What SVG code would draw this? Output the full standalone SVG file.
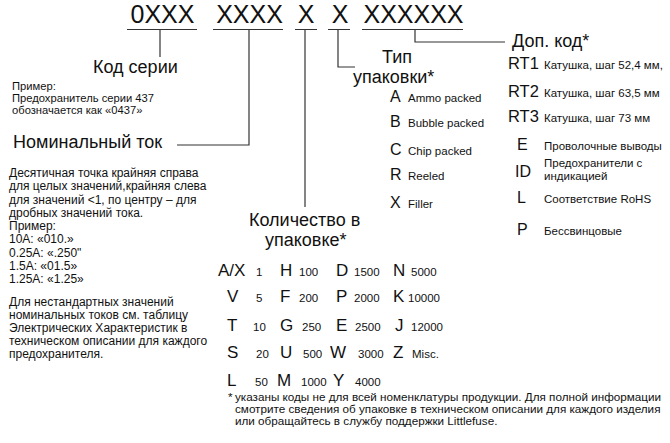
<svg xmlns="http://www.w3.org/2000/svg" width="670" height="443" viewBox="0 0 670 443">
<style>
text{font-family:"Liberation Sans",Arial,sans-serif;fill:#111}
.code{font-size:25px}
.lbl{font-size:18px}
.big{font-size:17px}
.mid{font-size:16px}
.rt{font-size:16.5px}
.sm{font-size:11.5px}
.ex{font-size:11.2px}
.cur{font-size:12px}
.fn{font-size:11.7px}
.num{font-size:11.5px}
.ln{fill:none;stroke:#333;stroke-width:1.2}
</style>
<rect width="670" height="443" fill="#fff"/>
<g id="code">
<text class="code" x="162.5" y="23" text-anchor="middle">0XXX</text>
<text class="code" x="249.5" y="23" text-anchor="middle">XXXX</text>
<text class="code" x="306" y="23" text-anchor="middle">X</text>
<text class="code" x="340" y="23" text-anchor="middle">X</text>
<text class="code" x="413.5" y="23" text-anchor="middle">XXXXXX</text>
<path class="ln" d="M127,29.5H197M213,29.5H283M295,29.5H317M328,29.5H350M362,29.5H463"/>
</g>
<g id="connectors">
<path class="ln" d="M160,30V57"/>
<path class="ln" d="M249,30V145H177"/>
<path class="ln" d="M305,30V207"/>
<path class="ln" d="M338,30V67H355"/>
<path class="ln" d="M415,30V42H505"/>
</g>
<g id="series">
<text class="lbl" x="93" y="73">Код серии</text>
<text class="ex" x="12" y="90">Пример:</text>
<text class="ex" x="12" y="102">Предохранитель серии 437</text>
<text class="ex" x="12" y="114">обозначается как «0437»</text>
</g>
<g id="current">
<text class="lbl" x="13" y="148">Номинальный ток</text>
<text class="cur" x="9" y="177">Десятичная точка крайняя справа</text>
<text class="cur" x="9" y="190.25">для целых значений,крайняя слева</text>
<text class="cur" x="9" y="203.5">для значений &lt;1, по центру – для</text>
<text class="cur" x="9" y="216.75">дробных значений тока.</text>
<text class="cur" x="9" y="230">Пример:</text>
<text class="cur" x="9" y="243.25">10А: «010.»</text>
<text class="cur" x="9" y="256.5">0.25А: «.250"</text>
<text class="cur" x="9" y="269.75">1.5А: «01.5»</text>
<text class="cur" x="9" y="283">1.25А: «1.25»</text>
<text class="cur" x="9" y="306">Для нестандартных значений</text>
<text class="cur" x="9" y="319">номинальных токов см. таблицу</text>
<text class="cur" x="9" y="332">Электрических Характеристик в</text>
<text class="cur" x="9" y="345">техническом описании для каждого</text>
<text class="cur" x="9" y="358">предохранителя.</text>
</g>
<g id="quantity">
<text class="lbl" x="249" y="226">Количество в</text>
<text class="lbl" x="265" y="246">упаковке*</text>
<text class="big" x="218" y="276">A/X</text><text class="num" x="256" y="276">1</text>
<text class="big" x="280" y="276">H</text><text class="num" x="299" y="276">100</text>
<text class="big" x="336" y="276">D</text><text class="num" x="354" y="276">1500</text>
<text class="big" x="393" y="276">N</text><text class="num" x="411" y="276">5000</text>
<text class="big" x="227" y="302">V</text><text class="num" x="256" y="302">5</text>
<text class="big" x="280" y="302">F</text><text class="num" x="299" y="302">200</text>
<text class="big" x="336" y="302">P</text><text class="num" x="354" y="302">2000</text>
<text class="big" x="393" y="302">K</text><text class="num" x="408" y="302">10000</text>
<text class="big" x="227" y="331">T</text><text class="num" x="253" y="331">10</text>
<text class="big" x="280" y="331">G</text><text class="num" x="302" y="331">250</text>
<text class="big" x="336" y="331">E</text><text class="num" x="355" y="331">2500</text>
<text class="big" x="395" y="331">J</text><text class="num" x="411" y="331">12000</text>
<text class="big" x="227" y="358">S</text><text class="num" x="256" y="358">20</text>
<text class="big" x="280" y="358">U</text><text class="num" x="303" y="358">500</text>
<text class="big" x="330" y="358">W</text><text class="num" x="358" y="358">3000</text>
<text class="big" x="393" y="358">Z</text><text class="num" x="412" y="358">Misc.</text>
<text class="big" x="227" y="386">L</text><text class="num" x="255" y="386">50</text>
<text class="big" x="277" y="386">M</text><text class="num" x="301" y="386">1000</text>
<text class="big" x="333" y="386">Y</text><text class="num" x="355" y="386">4000</text>
</g>
<g id="packaging">
<text class="lbl" x="382" y="63">Тип</text>
<text class="lbl" x="353" y="83">упаковки*</text>
<text class="mid" x="390" y="102">A</text><text class="sm" x="408" y="102">Ammo packed</text>
<text class="mid" x="390" y="127">B</text><text class="sm" x="408" y="127">Bubble packed</text>
<text class="mid" x="390" y="155">C</text><text class="sm" x="408" y="155">Chip packed</text>
<text class="mid" x="390" y="180">R</text><text class="sm" x="408" y="180">Reeled</text>
<text class="mid" x="390" y="208">X</text><text class="sm" x="408" y="208">Filler</text>
</g>
<g id="extra">
<text class="lbl" x="512" y="47">Доп. код*</text>
<text class="rt" x="508" y="69">RT1</text><text class="sm" x="544" y="69">Катушка, шаг 52,4 мм,</text>
<text class="rt" x="508" y="97">RT2</text><text class="sm" x="544" y="97">Катушка, шаг 63,5 мм</text>
<text class="rt" x="508" y="122">RT3</text><text class="sm" x="544" y="122">Катушка, шаг 73 мм</text>
<text class="mid" x="517" y="150">E</text><text class="sm" x="544" y="150">Проволочные выводы</text>
<text class="mid" x="515" y="177">ID</text><text class="sm" x="544" y="167">Предохранители с</text><text class="sm" x="544" y="180">индикацией</text>
<text class="mid" x="517" y="203">L</text><text class="sm" x="544" y="203">Соответствие RoHS</text>
<text class="mid" x="517" y="235">P</text><text class="sm" x="544" y="235">Бессвинцовые</text>
</g>
<g id="footnote">
<text class="fn" x="228" y="401">*</text>
<text class="fn" x="235" y="401">указаны коды не для всей номенклатуры продукции. Для полной информации</text>
<text class="fn" x="235" y="413">смотрите  сведения об упаковке в  техническом описании для каждого изделия</text>
<text class="fn" x="235" y="425">или обращайтесь в службу поддержки Littlefuse.</text>
</g>
</svg>
